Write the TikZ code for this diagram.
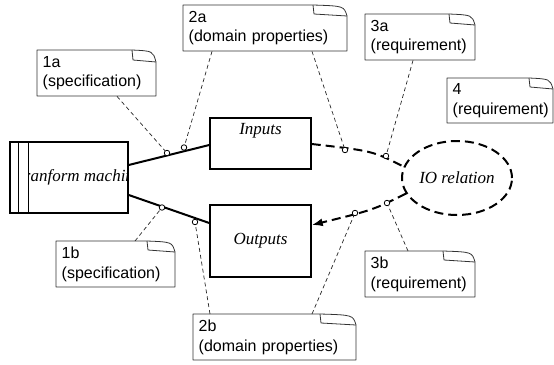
\documentclass[tikz,border=0pt]{standalone}
\usepackage{fontspec}
\setmainfont{Liberation Sans}
\newfontfamily\serifit{Liberation Serif}
\usetikzlibrary{arrows.meta,calc,shapes.geometric}
\tikzset{
  box/.style={draw, line width=1.5pt, inner sep=0pt},
  lbl/.style={font=\fontsize{17}{20}\selectfont\serifit\itshape},
  notetext/.style={inner xsep=5.5pt, inner ysep=0pt, align=left, font=\fontsize{16}{19.5}\selectfont},
  noteline/.style={draw=black!80, line width=0.8pt, line join=round},
  conn/.style={draw=black!85, line width=0.7pt, dash pattern=on 4pt off 3pt},
  solidc/.style={draw, line width=2pt},
  flow/.style={draw, line width=2pt, dash pattern=on 9pt off 5pt},
  port/.style={circle, draw, fill=white, inner sep=0pt, minimum size=5.5pt, line width=0.8pt}
}
\newcommand\notebox[9]{%
  \pgfmathsetmacro\ntw{#4-#2-11}%
  \node[notetext, anchor=north west, text width=\ntw pt, minimum height={(#5-#3)*1pt}] (#1) at (#2,#3) {#8\\#9};
  \draw[noteline] (#2,#3) -- (#6,#3) .. controls (#4-3,#3+1) .. (#4,#7) -- (#4,#5) -- (#2,#5) -- cycle;
  \draw[noteline] (#6,#3) -- (#6+1,#7-2) -- (#4,#7);
}
\begin{document}
\begin{tikzpicture}[x=1pt,y=-1pt]
\useasboundingbox (0,0) rectangle (554,364);
% machine
\begin{scope}
  \clip (29,142) rectangle (128,213);
  \node[lbl] (tmtext) at (78.5,177.5) {Tranform machine};
\end{scope}
\node[box, minimum width=118pt, minimum height=71pt] (tm) at (69,177.5) {};
\draw[line width=1.5pt] ($(tm.north west)+(9,0)$) -- ($(tm.south west)+(9,0)$)
  ($(tm.north west)+(19,0)$) -- ($(tm.south west)+(19,0)$);
% domains
\node[box, minimum width=101pt, minimum height=51pt] (in) at (260.5,143.5) {};
\node[lbl] (intext) at (260.5,131) {Inputs};
\node[box, minimum width=101pt, minimum height=72pt, lbl] (out) at (260.5,241) {Outputs};
\node[ellipse, flow, minimum width=110pt, minimum height=74pt, inner sep=0pt, lbl] (io) at (457,178) {IO relation};
% solid connectors
\draw[solidc] ($(tm.east)+(0,-12.5)$) -- ($(in.west)+(0,1.5)$);
\draw[solidc] ($(tm.east)+(0,17.5)$) -- ($(out.west)+(0,-18)$);
% flows
\draw[flow] ($(in.east)+(0,0.5)$) .. controls (373,151) .. (io.168);
\draw[flow, -{Latex[length=11pt,width=8pt]}] (io.197) .. controls (373,210) .. ($(out.east)+(0,-16)$);
% notes
\notebox{n1a}{37}{50}{156}{96}{132}{62}{1a}{(specification)}
\notebox{n2a}{183}{5}{347}{51}{313}{16}{2a}{(domain properties)}
\notebox{n3a}{365}{14}{475}{60}{449}{25}{3a}{(requirement)}
\notebox{n4}{447}{78}{553}{123}{529}{89}{4}{(requirement)}
\notebox{n1b}{56}{241}{175}{287}{147}{252}{1b}{(specification)}
\notebox{n2b}{193}{314}{356}{360}{320}{325}{2b}{(domain properties)}
\notebox{n3b}{365}{251}{475}{297}{443}{262}{3b}{(requirement)}
% ports
\node[port] (c1) at (167,153) {};
\node[port] (c2) at (184,147.5) {};
\node[port] (c3) at (345,150) {};
\node[port] (c4) at (386,156) {};
\node[port] (c5) at (162,207.5) {};
\node[port] (c6) at (195,222) {};
\node[port] (c7) at (355,213) {};
\node[port] (c8) at (387,203) {};
% note connectors
\draw[conn] ($(n1a.south west)+(80,0)$) -- (c1);
\draw[conn] ($(n2a.south west)+(29,0)$) -- (c2);
\draw[conn] ($(n2a.south west)+(129,0)$) -- (c3);
\draw[conn] ($(n3a.south west)+(48,0)$) -- (c4);
\draw[conn] ($(n1b.north west)+(79,0)$) -- (c5);
\draw[conn] ($(n2b.north west)+(17,0)$) -- (c6);
\draw[conn] ($(n2b.north west)+(119,0)$) -- (c7);
\draw[conn] ($(n3b.north west)+(43,0)$) -- (c8);
\end{tikzpicture}
\end{document}
